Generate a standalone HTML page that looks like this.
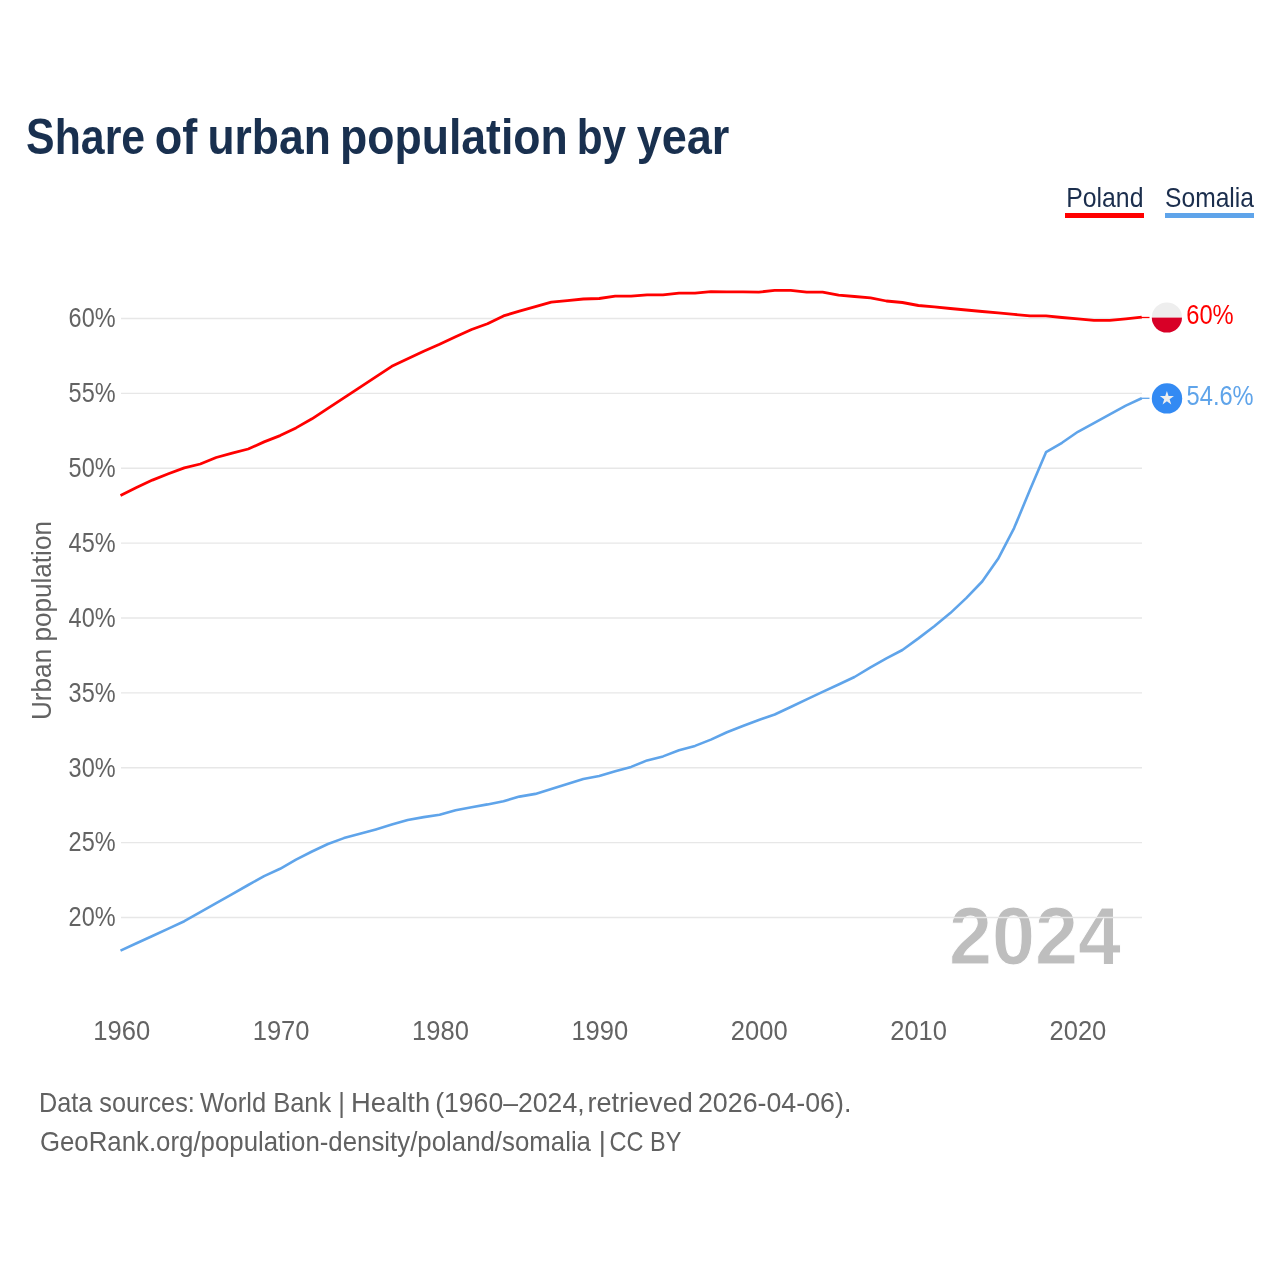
<!DOCTYPE html>
<html><head><meta charset="utf-8">
<style>
html,body{margin:0;padding:0;background:#fff;}
body{width:1280px;height:1280px;overflow:hidden;}
svg{display:block;font-family:"Liberation Sans", sans-serif;will-change:transform;}
</style></head><body>
<svg width="1280" height="1280" viewBox="0 0 1280 1280">
<rect width="1280" height="1280" fill="#fff"/>
<g font-size="50.5" font-weight="bold" fill="#19304f">
<text x="26.10" y="153.8" textLength="119.04" lengthAdjust="spacingAndGlyphs">Share</text>
<text x="154.78" y="153.8" textLength="42.56" lengthAdjust="spacingAndGlyphs">of</text>
<text x="207.46" y="153.8" textLength="123.32" lengthAdjust="spacingAndGlyphs">urban</text>
<text x="340.06" y="153.8" textLength="227.74" lengthAdjust="spacingAndGlyphs">population</text>
<text x="576.72" y="153.8" textLength="49.36" lengthAdjust="spacingAndGlyphs">by</text>
<text x="636.68" y="153.8" textLength="92.72" lengthAdjust="spacingAndGlyphs">year</text>
</g>
<g font-size="27.3" fill="#1b2e4d">
<text x="1066.2" y="207.2" textLength="77.3" lengthAdjust="spacingAndGlyphs">Poland</text>
<text x="1165.0" y="207.2" textLength="89" lengthAdjust="spacingAndGlyphs">Somalia</text>
</g>
<rect x="1065" y="213" width="79" height="5" fill="#ff0000"/>
<rect x="1165" y="213" width="89" height="5" fill="#5fa4ea"/>
<text x="1121" y="964" text-anchor="end" font-size="81" font-weight="bold" fill="#bebebe" stroke="#fff" stroke-width="1" paint-order="normal" textLength="172" lengthAdjust="spacingAndGlyphs">2024</text>
<g stroke="#e7e7e7" stroke-width="1.4">
<line x1="121" y1="318.5" x2="1142" y2="318.5" />
<line x1="121" y1="393.38" x2="1142" y2="393.38" />
<line x1="121" y1="468.25" x2="1142" y2="468.25" />
<line x1="121" y1="543.12" x2="1142" y2="543.12" />
<line x1="121" y1="618.0" x2="1142" y2="618.0" />
<line x1="121" y1="692.88" x2="1142" y2="692.88" />
<line x1="121" y1="767.75" x2="1142" y2="767.75" />
<line x1="121" y1="842.62" x2="1142" y2="842.62" />
<line x1="121" y1="917.5" x2="1142" y2="917.5" />
</g>
<g font-size="27.2" fill="#636363">
<text x="68.6" y="327.2" textLength="47" lengthAdjust="spacingAndGlyphs">60%</text>
<text x="68.6" y="402.1" textLength="47" lengthAdjust="spacingAndGlyphs">55%</text>
<text x="68.6" y="476.9" textLength="47" lengthAdjust="spacingAndGlyphs">50%</text>
<text x="68.6" y="551.8" textLength="47" lengthAdjust="spacingAndGlyphs">45%</text>
<text x="68.6" y="626.7" textLength="47" lengthAdjust="spacingAndGlyphs">40%</text>
<text x="68.6" y="701.6" textLength="47" lengthAdjust="spacingAndGlyphs">35%</text>
<text x="68.6" y="776.5" textLength="47" lengthAdjust="spacingAndGlyphs">30%</text>
<text x="68.6" y="851.3" textLength="47" lengthAdjust="spacingAndGlyphs">25%</text>
<text x="68.6" y="926.2" textLength="47" lengthAdjust="spacingAndGlyphs">20%</text>
<text x="93.3" y="1039.8" textLength="56.8" lengthAdjust="spacingAndGlyphs">1960</text>
<text x="252.7" y="1039.8" textLength="56.8" lengthAdjust="spacingAndGlyphs">1970</text>
<text x="412.1" y="1039.8" textLength="56.8" lengthAdjust="spacingAndGlyphs">1980</text>
<text x="571.4" y="1039.8" textLength="56.8" lengthAdjust="spacingAndGlyphs">1990</text>
<text x="730.8" y="1039.8" textLength="56.8" lengthAdjust="spacingAndGlyphs">2000</text>
<text x="890.2" y="1039.8" textLength="56.8" lengthAdjust="spacingAndGlyphs">2010</text>
<text x="1049.5" y="1039.8" textLength="56.8" lengthAdjust="spacingAndGlyphs">2020</text>
</g>
<text transform="translate(51.3,620.5) rotate(-90)" text-anchor="middle" font-size="27.2" fill="#636363" textLength="199" lengthAdjust="spacingAndGlyphs">Urban population</text>
<polyline points="120.5,495.4 136.5,487.5 152.4,480.1 168.4,473.8 184.3,467.9 200.3,464.0 216.2,457.5 232.2,453.1 248.2,449.0 264.1,441.9 280.1,435.6 296.0,427.9 312.0,418.8 327.9,408.3 343.9,397.8 359.9,387.3 375.8,376.9 391.8,366.3 407.7,358.7 423.7,351.2 439.6,344.2 455.6,336.7 471.6,329.5 487.5,323.8 503.5,315.9 519.4,311.2 535.4,306.6 551.3,302.2 567.3,300.6 583.3,299.0 599.2,298.5 615.2,296.2 631.1,296.2 647.1,294.8 663.0,294.8 679.0,293.1 695.0,293.1 710.9,291.6 726.9,291.8 742.8,291.9 758.8,292.1 774.7,290.4 790.7,290.4 806.7,292.1 822.6,292.1 838.6,295.2 854.5,296.5 870.5,297.8 886.4,301.0 902.4,302.5 918.4,305.5 934.3,306.9 950.3,308.5 966.2,310.0 982.2,311.5 998.1,312.9 1014.1,314.4 1030.0,315.9 1046.0,315.9 1062.0,317.5 1077.9,318.8 1093.9,320.3 1109.8,320.3 1125.8,318.8 1141.7,317.2" fill="none" stroke="#ff0000" stroke-width="2.8" stroke-linejoin="round"/>
<polyline points="120.5,950.6 136.5,943.3 152.4,936.0 168.4,928.6 184.3,921.2 200.3,912.2 216.2,903.1 232.2,894.1 248.2,885.0 264.1,876.1 280.1,868.8 296.0,859.6 312.0,851.5 327.9,844.0 343.9,838.1 359.9,833.8 375.8,829.4 391.8,824.6 407.7,820.0 423.7,817.1 439.6,814.8 455.6,810.2 471.6,807.2 487.5,804.4 503.5,801.2 519.4,796.6 535.4,793.9 551.3,789.1 567.3,784.1 583.3,779.1 599.2,775.9 615.2,771.2 631.1,766.9 647.1,760.4 663.0,756.4 679.0,750.2 695.0,745.9 710.9,739.6 726.9,732.2 742.8,726.0 758.8,720.0 774.7,714.5 790.7,707.0 806.7,699.4 822.6,691.8 838.6,684.5 854.5,677.0 870.5,667.4 886.4,658.4 902.4,650.0 918.4,638.4 934.3,626.2 950.3,613.1 966.2,598.1 982.2,581.5 998.1,558.8 1014.1,528.1 1030.0,489.8 1046.0,452.2 1062.0,442.8 1077.9,431.8 1093.9,423.1 1109.8,414.4 1125.8,405.6 1141.7,398.3" fill="none" stroke="#5fa4ea" stroke-width="2.6" stroke-linejoin="round"/>
<line x1="1141" y1="317.5" x2="1149.5" y2="317.5" stroke="#ff0000" stroke-width="1.3"/>
<line x1="1141" y1="398.3" x2="1149.5" y2="398.3" stroke="#5fa4ea" stroke-width="1.3"/>
<clipPath id="pc"><circle cx="1166.9" cy="317.5" r="15.1"/></clipPath>
<g clip-path="url(#pc)">
<rect x="1150" y="300" width="34" height="17.6" fill="#eeeeee"/>
<rect x="1150" y="317.6" width="34" height="17" fill="#d80027"/>
</g>
<circle cx="1167" cy="398.4" r="15.2" fill="#338af3"/>
<polygon points="1166.90,391.00 1168.56,396.11 1173.94,396.11 1169.59,399.27 1171.25,404.39 1166.90,401.23 1162.55,404.39 1164.21,399.27 1159.86,396.11 1165.24,396.11" fill="#eeeeee"/>
<text x="1186.2" y="323.6" font-size="27.2" fill="#ff0000" textLength="47.5" lengthAdjust="spacingAndGlyphs">60%</text>
<text x="1186.6" y="405" font-size="27.2" fill="#5fa4ea" textLength="67" lengthAdjust="spacingAndGlyphs">54.6%</text>
<g font-size="27.2" fill="#616161">
<text x="38.99" y="1111.8" textLength="155.81" lengthAdjust="spacingAndGlyphs">Data sources:</text>
<text x="200.00" y="1111.8" textLength="145.01" lengthAdjust="spacingAndGlyphs">World Bank |</text>
<text x="351.04" y="1111.8" textLength="79.18" lengthAdjust="spacingAndGlyphs">Health</text>
<text x="435.15" y="1111.8" textLength="149.44" lengthAdjust="spacingAndGlyphs">(1960–2024,</text>
<text x="587.41" y="1111.8" textLength="105.39" lengthAdjust="spacingAndGlyphs">retrieved</text>
<text x="697.94" y="1111.8" textLength="153.44" lengthAdjust="spacingAndGlyphs">2026-04-06).</text>
<text x="39.89" y="1150.8" textLength="551.11" lengthAdjust="spacingAndGlyphs">GeoRank.org/population-density/poland/somalia</text>
<text x="598.80" y="1150.8">|</text>
<text x="609.52" y="1150.8" textLength="71.85" lengthAdjust="spacingAndGlyphs">CC BY</text>
</g>
</svg>
</body></html>
